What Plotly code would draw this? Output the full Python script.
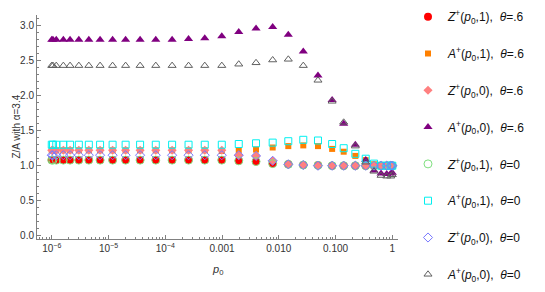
import plotly.graph_objects as go

# p0 values
p0 = [1.0e-6, 1.05e-6, 1.2e-6, 1.6e-6, 2.1e-6, 3.0e-6, 4.5e-6, 7.1e-6, 1.18e-5, 2.0e-5,
      3.6e-5, 6.8e-5, 1.32e-4, 2.57e-4, 4.96e-4, 9.9e-4, 1.97e-3, 3.97e-3, 7.8e-3, 1.47e-2,
      2.7e-2, 4.9e-2, 8.7e-2, 0.139, 0.223, 0.34, 0.476, 0.633, 0.796, 0.937, 1.0]

z1_6 = [1.08]*16 + [1.07, 1.06, 1.03, 1.02, 1.01, 1.005, 1.0, 1.0, 1.0, 1.0, 1.0, 1.0, 1.0, 1.0, 1.0]
a1_6 = [1.22]*15 + [1.21, 1.22, 1.23, 1.26, 1.28, 1.29, 1.28, 1.24, 1.20, 1.14, 1.08, 1.02, 1.0, 1.0, 1.0, 1.0]
z0_6 = [1.22]*16 + [1.15, 1.14, 1.07, 1.02, 1.01, 1.0, 1.0, 1.0, 1.0, 1.0, 1.0, 1.0, 1.0, 1.0, 1.0]
a0_6 = [2.80]*13 + [2.81, 2.82, 2.85, 2.91, 2.96, 2.98, 2.87, 2.63, 2.29, 1.94, 1.60, 1.30, 1.08, 0.93, 0.89, 0.88, 0.89, 0.90]
z1_0 = [1.08]*16 + [1.07, 1.06, 1.03, 1.02, 1.01, 1.005, 1.0, 1.0, 1.0, 1.0, 1.0, 1.0, 1.0, 1.0, 1.0]
a1_0 = [1.30]*16 + [1.31, 1.32, 1.33, 1.35, 1.37, 1.36, 1.31, 1.25, 1.17, 1.10, 1.03, 1.0, 1.0, 1.0, 1.0]
z0_0 = [1.15]*16 + [1.15, 1.14, 1.07, 1.02, 1.01, 1.0, 1.0, 1.0, 1.0, 1.0, 1.0, 1.0, 1.0, 1.0, 1.0]
a0_0 = [2.43]*16 + [2.45, 2.47, 2.51, 2.52, 2.43, 2.22, 1.92, 1.62, 1.28, 1.05, 0.92, 0.86, 0.85, 0.85, 0.87]

sp = "&nbsp;"
names = [
    f"<i>Z</i><sup>+</sup>(<i>p</i><sub>0</sub>,1),{sp}{sp}<i>θ</i>=.6",
    f"<i>A</i><sup>+</sup>(<i>p</i><sub>0</sub>,1),{sp}{sp}<i>θ</i>=.6",
    f"<i>Z</i><sup>+</sup>(<i>p</i><sub>0</sub>,0),{sp}{sp}<i>θ</i>=.6",
    f"<i>A</i><sup>+</sup>(<i>p</i><sub>0</sub>,0),{sp}{sp}<i>θ</i>=.6",
    f"<i>Z</i><sup>+</sup>(<i>p</i><sub>0</sub>,1),{sp}{sp}<i>θ</i>=0",
    f"<i>A</i><sup>+</sup>(<i>p</i><sub>0</sub>,1),{sp}{sp}<i>θ</i>=0",
    f"<i>Z</i><sup>+</sup>(<i>p</i><sub>0</sub>,0),{sp}{sp}<i>θ</i>=0",
    f"<i>A</i><sup>+</sup>(<i>p</i><sub>0</sub>,0),{sp}{sp}<i>θ</i>=0",
]
series = [z1_6, a1_6, z0_6, a0_6, z1_0, a1_0, z0_0, a0_0]
symbols = ["circle", "square", "diamond", "triangle-up",
           "circle-open", "square-open", "diamond-open", "triangle-up-open"]
colors = ["#ff0000", "#ff8000", "#ff8080", "#800080",
          "#80e080", "#00f0f0", "#7878ff", "#606060"]
sizes = [8, 6, 7, 8, 8, 7, 7, 7]

xtickvals = [1e-6, 1e-5, 1e-4, 1e-3, 1e-2, 1e-1, 1]
xticktext = ["10<sup>−6</sup>", "10<sup>−5</sup>", "10<sup>−4</sup>", "0.001", "0.010", "0.100", "1"]

# plot area in pixels
L, R, T, B = 37, 398, 15, 239
PH = B - T

fig = go.Figure()
legends = {}
for i in range(8):
    lname = "legend" if i == 0 else f"legend{i+1}"
    fig.add_trace(go.Scatter(
        x=p0, y=series[i], mode="markers", name=names[i], legend=lname,
        marker=dict(symbol=symbols[i], color=colors[i], size=sizes[i],
                    line=dict(width=1, color=colors[i]) if "open" in symbols[i] else dict(width=0)),
    ))
    row_y = 16.7 + 36.8 * i
    legends[lname] = dict(x=(408 - L) / (R - L), y=(B - row_y) / PH,
                          xanchor="left", yanchor="middle",
                          font=dict(size=12, color="#111"), bgcolor="rgba(0,0,0,0)")

axcol = "#808080"
fig.update_layout(
    width=545, height=292,
    margin=dict(l=L, r=545 - R, t=T, b=292 - B, autoexpand=False),
    paper_bgcolor="white", plot_bgcolor="white",
    font=dict(family="Liberation Sans, Arial, sans-serif", size=10, color="#333"),
    showlegend=True,
    xaxis=dict(type="log", range=[-6.26, 0.10], showgrid=False, zeroline=False,
               showline=True, linecolor=axcol, linewidth=1,
               ticks="inside", ticklen=4, tickcolor=axcol,
               tickvals=xtickvals, ticktext=xticktext,
               minor=dict(ticks="inside", ticklen=2, dtick="D1", tickcolor=axcol)),
    yaxis=dict(range=[-0.047, 3.153], showgrid=False, zeroline=False,
               showline=True, linecolor=axcol, linewidth=1,
               ticks="inside", ticklen=4, tickcolor=axcol,
               tickvals=[0, 0.5, 1.0, 1.5, 2.0, 2.5, 3.0], tickformat=".1f",
               minor=dict(ticks="inside", ticklen=2, dtick=0.1, tickcolor=axcol)),
    annotations=[
        dict(text="Z/A with α=3.4", xref="paper", yref="paper", x=-0.08, y=0.5,
             textangle=-90, showarrow=False, font=dict(size=10, color="#333")),
        dict(text="<i>p</i><sub>0</sub>", xref="paper", yref="paper", x=0.501, y=-0.18,
             showarrow=False, font=dict(size=11, color="#333")),
    ],
    **legends,
)

fig.write_html("out.html", config={"displayModeBar": False},
               post_script="document.body.style.margin='0';")
